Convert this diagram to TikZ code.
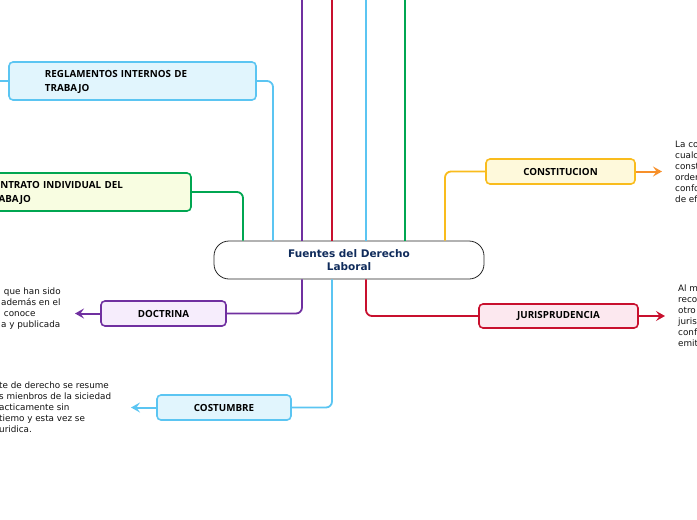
\documentclass[tikz,border=0pt]{standalone}
\usepackage{fontspec}
\setmainfont{DejaVu Sans}
\newfontfamily\labelfont{Open Sans}
\usetikzlibrary{arrows.meta}
\definecolor{cblue}{HTML}{5BC5F2}
\definecolor{fblue}{HTML}{E1F5FD}
\definecolor{cgreen}{HTML}{00A651}
\definecolor{fgreen}{HTML}{F8FDE1}
\definecolor{cpurple}{HTML}{7030A0}
\definecolor{fpurple}{HTML}{F6EDFC}
\definecolor{cred}{HTML}{C8102E}
\definecolor{fred}{HTML}{FCE8EF}
\definecolor{cyellow}{HTML}{F9BC1D}
\definecolor{fyellow}{HTML}{FEF9DB}
\definecolor{corange}{HTML}{F7902A}
\definecolor{navy}{HTML}{0F2B5B}
\definecolor{txt}{HTML}{111111}
\tikzset{
  topic/.style={draw, line width=1.6pt, rounded corners=4pt, inner sep=0pt,
    font=\labelfont\bfseries\fontsize{9.8}{14}\selectfont, text=black},
  wide/.style={align=left, text width=#1},
  link/.style={line width=1.8pt, rounded corners=6pt},
  tip/.style={line width=2pt, -{Stealth[length=9pt,width=10pt,inset=3.5pt]}},
  desc/.style={font=\fontsize{8.8}{11}\selectfont, text=txt, align=left, inner sep=0pt, anchor=north west},
}
\begin{document}
\begin{tikzpicture}[x=1pt,y=-1pt]
\useasboundingbox (0,0) rectangle (697,520);

% central node
\node[draw=black!85, line width=0.8pt, fill=white, rounded corners=15pt,
  minimum width=270pt, minimum height=38pt, inner sep=0pt, align=center,
  font=\bfseries\fontsize{10.5}{12.5}\selectfont, text=navy] (c) at (349,260)
  {Fuentes del Derecho\\Laboral};

% topic nodes
\node[topic, draw=cblue, fill=fblue, minimum width=247pt, minimum height=38pt, wide=175pt] (reg) at (132.5,81)
  {\rule{0pt}{9pt}REGLAMENTOS INTERNOS DE\\TRABAJO};
\node[topic, draw=cgreen, fill=fgreen, minimum width=241pt, minimum height=38pt, wide=168pt] (con) at (70.5,192)
  {\rule{0pt}{9pt}CONTRATO INDIVIDUAL DEL\\TRABAJO};
\node[topic, draw=cpurple, fill=fpurple, minimum width=125pt, minimum height=25pt] (doc) at (163.5,313.5) {DOCTRINA};
\node[topic, draw=cblue, fill=fblue, minimum width=134pt, minimum height=25pt] (cos) at (224,407.5) {COSTUMBRE};
\node[topic, draw=cyellow, fill=fyellow, minimum width=149pt, minimum height=25pt] (cst) at (560.5,171.5) {CONSTITUCION};
\node[topic, draw=cred, fill=fred, minimum width=159pt, minimum height=24pt] (jur) at (558.5,316) {JURISPRUDENCIA};

% off-canvas ends
\coordinate (t1) at (302,0);
\coordinate (t2) at (332,0);
\coordinate (t3) at (366,0);
\coordinate (t4) at (405,0);
\coordinate (l1) at (0,81);

% connectors above
\draw[link, cgreen] ([xshift=-106pt]c.north) |- (con.east);
\draw[link, cblue] ([xshift=-76pt]c.north) |- (reg.east);
\draw[link, cpurple] ([xshift=-47pt]c.north) -- (t1);
\draw[link, cred] ([xshift=-17pt]c.north) -- (t2);
\draw[link, cblue] ([xshift=17pt]c.north) -- (t3);
\draw[link, cgreen] ([xshift=56pt]c.north) -- (t4);
\draw[link, cyellow] ([xshift=96pt]c.north) |- (cst.west);
\draw[link, cblue] (reg.west) -- (l1);
% connectors below
\draw[link, cpurple] ([xshift=-47pt]c.south) |- (doc.east);
\draw[link, cblue] ([xshift=-17pt]c.south) |- (cos.east);
\draw[link, cred] ([xshift=17pt]c.south) |- (jur.west);

% arrows to descriptions
\coordinate (a1) at (75,313.5);
\coordinate (a2) at (131,407.5);
\coordinate (a3) at (662,171.5);
\coordinate (a4) at (665,316);
\draw[cpurple, tip] (doc.west) -- (a1);
\draw[cblue, tip] (cos.west) -- (a2);
\draw[corange, tip] (cst.east) -- (a3);
\draw[cred, tip] (jur.east) -- (a4);

% descriptions
\node[desc] (d1) at (1,288) {\ que han sido\\además en el\\\ conoce\\a y publicada};
\node[desc] (d2) at (-1,382) {te de derecho se resume\\s mienbros de la siciedad\\acticamente sin\\tiemo y esta vez se\\uridica.};
\node[desc] (d3) at (675,141) {La co\\cualc\\const\\order\\confo\\de ef};
\node[desc] (d4) at (678,285) {Al m\\reco\\otro\\juris\\conf\\emit};
\end{tikzpicture}
\end{document}
